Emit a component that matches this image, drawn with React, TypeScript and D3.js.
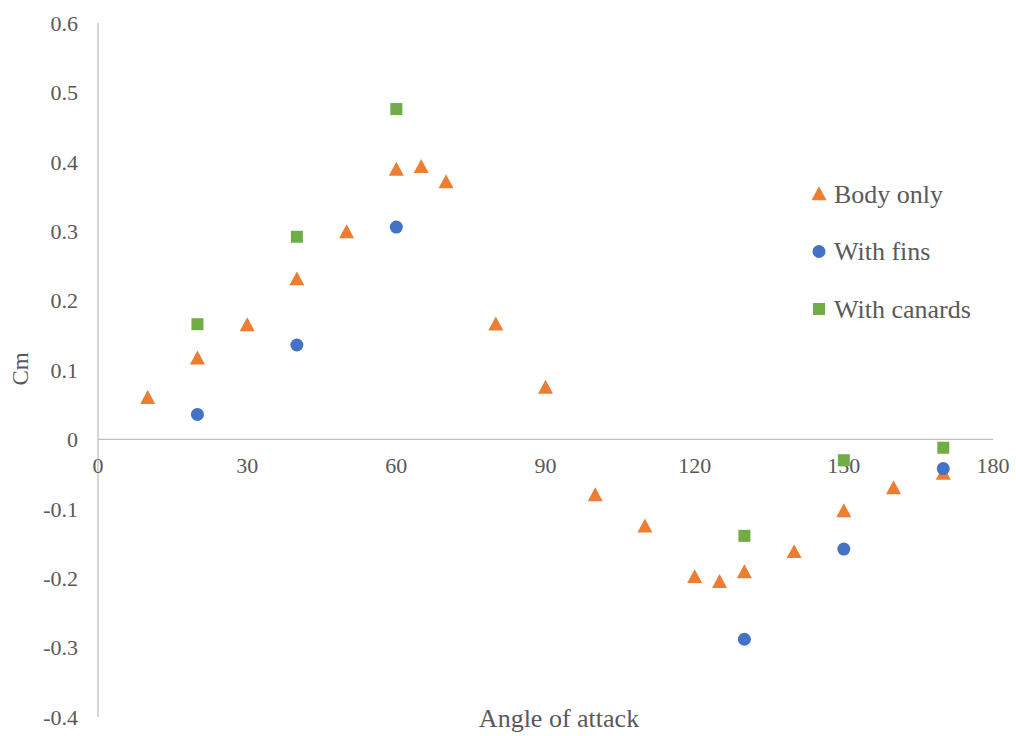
import React from 'react';
import * as d3 from 'd3';

// Cm vs angle of attack
const bodyAngles = [10, 20, 30, 40, 50, 60, 65, 70, 80, 90, 100, 110, 120, 125, 130, 140, 150, 160, 170];
const bodyCm = [0.06, 0.117, 0.165, 0.231, 0.299, 0.389, 0.393, 0.371, 0.166, 0.075, -0.08, -0.125, -0.198, -0.205, -0.191, -0.162, -0.103, -0.07, -0.049];

const finsAngles = [20, 40, 60, 130, 150, 170];
const finsCm = [0.036, 0.136, 0.306, -0.288, -0.158, -0.042];

const canardAngles = [20, 40, 60, 130, 150, 170];
const canardCm = [0.166, 0.292, 0.476, -0.139, -0.03, -0.012];

const xTicks = [0, 30, 60, 90, 120, 150, 180];
const yTicks = [0.6, 0.5, 0.4, 0.3, 0.2, 0.1, 0, -0.1, -0.2, -0.3, -0.4];

const seriesNames = ['Body only', 'With fins', 'With canards'];

const W = 1016;
const H = 736;
const FONT = '"Liberation Serif", "Times New Roman", serif';
const TEXT = '#595959';
const AXIS = '#bfbfbf';

const colors = ['#ed7d31', '#4472c4', '#70ad47'];

// excel style triangle, a bit taller than equilateral
const excelTriangle = {
  draw(ctx: any, size: number) {
    const w = Math.sqrt(size);
    const h = w * 0.93;
    ctx.moveTo(0, -h * 0.55);
    ctx.lineTo(w / 2, h * 0.45);
    ctx.lineTo(-w / 2, h * 0.45);
    ctx.closePath();
  },
};
const shapes = [excelTriangle, d3.symbolCircle, d3.symbolSquare];
const sizes = [225, 133, 144];

const App = () => {
  const x = d3.scaleLinear().domain([0, 180]).range([98, 993]);
  const y = d3.scaleLinear().domain([-0.4, 0.6]).range([717, 23]);

  const series = [
    { angles: bodyAngles, values: bodyCm },
    { angles: finsAngles, values: finsCm },
    { angles: canardAngles, values: canardCm },
  ];

  const sym = (i: number) => d3.symbol().type(shapes[i] as any).size(sizes[i])() as string;

  // legend rows
  const legendY = d3.scalePoint().domain(seriesNames).range([194, 309]);

  return (
    <svg
      width={W}
      height={H}
      style={{ position: 'absolute', left: 0, top: 0, background: '#fff' }}
      fontFamily={FONT}
    >
      {/* axes */}
      <line x1={x(0)} x2={x(0)} y1={y(0.6)} y2={y(-0.4)} stroke={AXIS} strokeWidth={1.3} />
      <line x1={x(0)} x2={x(180)} y1={y(0)} y2={y(0)} stroke={AXIS} strokeWidth={1.3} />

      {yTicks.map((t) => (
        <text
          key={'y' + t}
          x={78}
          y={y(t)}
          dy="0.35em"
          textAnchor="end"
          fontSize={22}
          fill={TEXT}
        >
          {d3.format('.1~f')(t).replace('−', '-')}
        </text>
      ))}

      {xTicks.map((t) => (
        <text key={'x' + t} x={x(t)} y={473} textAnchor="middle" fontSize={22} fill={TEXT}>
          {t}
        </text>
      ))}

      <text x={559} y={727} textAnchor="middle" fontSize={26} fill={TEXT}>
        Angle of attack
      </text>
      <text
        transform={`translate(28, 369) rotate(-90)`}
        textAnchor="middle"
        fontSize={23}
        fill={TEXT}
      >
        Cm
      </text>

      {/* points */}
      {series.map((s, i) => (
        <g key={'s' + i} fill={colors[i]}>
          {s.angles.map((a, j) => (
            <path key={j} d={sym(i)} transform={`translate(${x(a)}, ${y(s.values[j])})`} />
          ))}
        </g>
      ))}

      {/* legend */}
      {seriesNames.map((name, i) => (
        <g key={name} transform={`translate(0, ${legendY(name)})`}>
          <path d={sym(i)} fill={colors[i]} transform="translate(819, 0)" />
          <text x={834} y={0} dy="0.33em" fontSize={26} fill={TEXT}>
            {name}
          </text>
        </g>
      ))}
    </svg>
  );
};

export default App;
